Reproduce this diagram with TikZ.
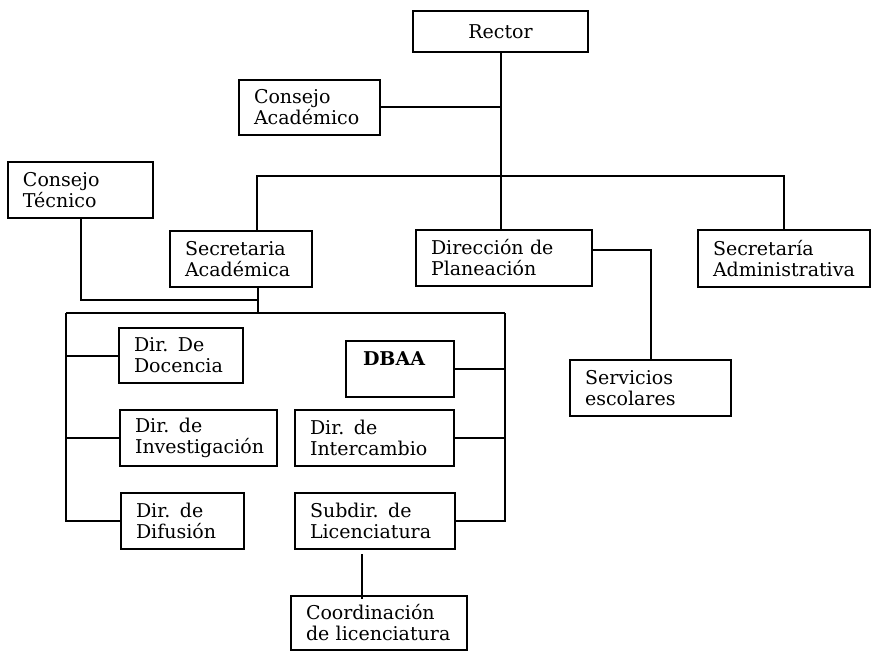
\documentclass[tikz,border=0pt]{standalone}
\usepackage{fontspec}
\setmainfont{DejaVu Serif}
\begin{document}
\begin{tikzpicture}[x=1pt,y=-1pt,
  line width=2pt,
  orgbox/.style={draw, line width=2pt, rectangle, inner xsep=15pt, inner ysep=0pt,
    font=\fontsize{19}{21}\selectfont, align=left, anchor=center},
]
\useasboundingbox[fill=white] (0,0) rectangle (872,652);
\newcommand{\obox}[7]{%
  % name, x1, y1, x2, y2, text, options
  \pgfmathsetmacro{\cxx}{(#2+#4)/2}\pgfmathsetmacro{\cyy}{(#3+#5)/2}%
  \pgfmathsetmacro{\ww}{#4-#2-30}\pgfmathsetmacro{\hh}{#5-#3}%
  \node[orgbox, text width=\ww pt, minimum height=\hh pt, #7] (#1) at (\cxx,\cyy) {#6};}
\obox{rector}{413}{11}{588}{52}{Rector}{align=center}
\obox{conacad}{239}{80}{380}{135}{Consejo\\Académico}{}
\obox{contec}{8}{162}{153}{218}{Consejo\\Técnico}{}
\obox{secacad}{170}{231}{312}{287}{Secretaria\\Académica}{}
\obox{dirplan}{416}{230}{592}{286}{Dirección de\\Planeación}{}
\obox{secadm}{698}{230}{870}{287}{Secretaría\\Administrativa}{}
\obox{docencia}{119}{328}{243}{383}{Dir. De\\Docencia}{}
\obox{invest}{120}{410}{277}{466}{Dir. de\\Investigación}{}
\obox{difusion}{121}{493}{244}{549}{Dir. de\\Difusión}{}
\obox{dbaa}{346}{341}{454}{397}{\hspace*{2pt}\textbf{DBAA}\\\mbox{}}{}
\obox{interc}{295}{410}{454}{466}{Dir. de\\Intercambio}{}
\obox{subdir}{295}{493}{455}{549}{Subdir. de\\Licenciatura}{}
\obox{coord}{291}{596}{467}{650}{Coordinación\\de licenciatura}{}
\obox{servicios}{570}{360}{731}{416}{Servicios\\escolares}{}

\coordinate (bus) at (500,176);
\coordinate (j1) at (258,300);
\coordinate (j2) at (258,313);
\coordinate (L) at (66,313);
\coordinate (R) at (505,313);

\draw (rector.south) -- (rector.south |- dirplan.north);
\draw (conacad.east) -- (conacad.east -| rector.south);
\draw ([xshift=16pt]secacad.north) |- (bus) -| (secadm.north);
\draw (contec.south) |- (j1);
\draw ([xshift=17pt]secacad.south) -- (j2);
\draw (L) -- (R);
\draw (L) |- (difusion.west);
\draw (docencia.west -| L) -- (docencia.west);
\draw (invest.west -| L) -- (invest.west);
\draw (R) |- (subdir.east);
\draw (dbaa.east) -- (dbaa.east -| R);
\draw (interc.east) -- (interc.east -| R);
\draw ([xshift=-13pt,yshift=-4pt]subdir.south) -- ([xshift=-13pt,yshift=-4pt]subdir.south |- coord.north);
\draw ([yshift=8pt]dirplan.east) -| (servicios.north);
\end{tikzpicture}
\end{document}
